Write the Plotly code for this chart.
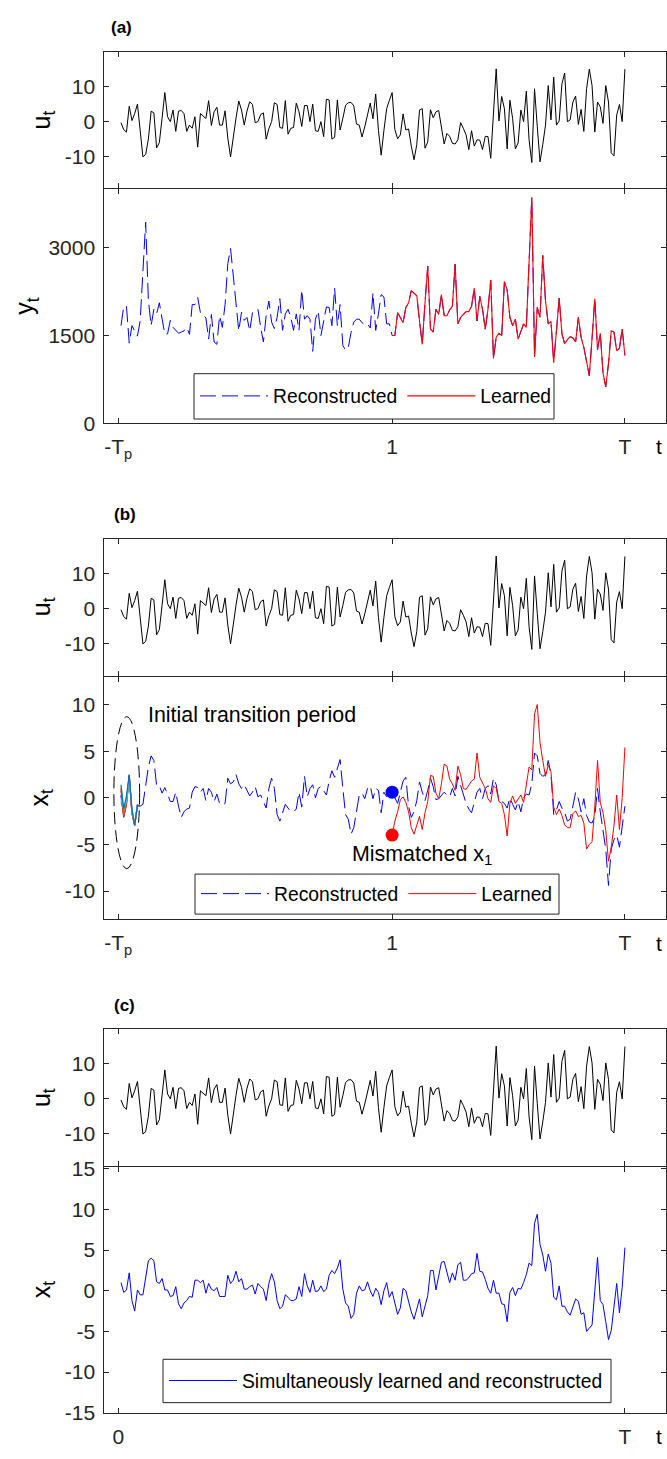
import plotly.graph_objects as go

# ---------------- data ----------------
# time index k (k=0 is the "-T_p" / "0" tick, k=100 is "1", k=185 is "T")
u_vals = [-0.3, -2.3, -3, 4.4, 0.3, 2.3, 5, -2.5, -10.1, -9.4,
          -5, 3, 2.5, -7.5, -6, 1, 8.3, 1.4, 0, 3.3,
          -2.8, 3, 3.2, 2.3, -2.8, -1, -1.9, 1.4, -7.3, 2.3,
          1.7, 0.9, 6, -1.1, 2.8, 4.1, -1, -1, 3.1, -4.7,
          -10.1, -4, 1, 5.9, 3.3, -1, 3, 5.7, 4.9, -0.3,
          0, 2, 2.5, -5, -2, 0, 5.4, 4.9, -1.7, -1.9,
          6, -3.6, -1.9, -1.7, 5.3, 2.8, -1.4, 4.6, 4.6, 0,
          5, -2.6, -2.8, 0, -4.3, 6.4, 6.2, -5, -4.5, 6.2,
          -2.4, 0.9, 4.7, 5.4, 5.5, 4.5, -0.7, -1, -4.4, -1.5,
          1.9, 5.3, 0.8, 7.9, -2.5, -9.6, -2.5, 3.7, 6.1, 8.3,
          -2.3, -4.9, -3.8, 2.2, -2.4, -2.1, -7, -10.9, -6.6, 3.3,
          3.7, -7.6, -5.8, 3.4, 1.1, 2.8, 3.2, -1.9, -6.4, -3.4,
          -4.2, -6.2, -6.4, -5.2, -0.3, -1.9, -3.8, -8, -2.6, -7,
          -5.2, -5.3, -8, -4.2, -4.3, -10.5, 2, 15.1, 0.2, 7.2,
          3.7, -7.8, 6.1, 0.9, -7.8, -6.1, 3.3, 0, 8.7, -5.2,
          -11.7, 9.4, -1.4, -11.5, -6.6, -1, 10.3, 0.5, 12.7, -1,
          0.2, 10.8, 13.9, 0, 0.5, 5.6, 7.3, -0.8, 3.5, -2.8,
          9.4, 15, 10.3, -3, 5.6, 4.2, -0.5, 10.3, 5.6, -8.9,
          -9.8, 1.9, 4.9, 0, 15]
k_all = list(range(1, 186))

# y_t reconstructed before t=1 (k=1..99)
y_recon_pre = [1670, 2000, 2000, 1370, 1670, 1580, 1490, 1750, 2500, 3440,
               2100, 1670, 1950, 1870, 2060, 1780, 1520, 1530, 1760, 1640,
               1590, 1540, 1560, 1580, 1640, 1520, 2030, 2030, 2150, 1890,
               1860, 1800, 1440, 1860, 1390, 1350, 1840, 1640, 2030, 2730,
               2990, 2540, 2090, 1580, 1900, 1760, 1810, 1580, 1890, 1920,
               1950, 1640, 1390, 1840, 2090, 1730, 1620, 1810, 2130, 1590,
               1870, 1950, 1810, 1590, 1870, 1590, 2280, 1780, 1840, 1780,
               1230, 1780, 1920, 1500, 1780, 1990, 1980, 1670, 2310, 1670,
               2030, 1330, 1250, 1300, 1550, 1730, 1780, 1780, 1720, 1690,
               1700, 1630, 2230, 1590, 1870, 2200, 2160, 1700, 1700]
# y_t learned (k=100..185)
y_learned = [1500, 1500, 1890, 1810, 1720, 1980, 2060, 2270, 2230, 2180,
             1750, 1350, 2060, 2690, 1610, 1560, 1950, 1860, 2200, 1840,
             1840, 1940, 2000, 2720, 1700, 1810, 1860, 1910, 1910, 2000,
             2310, 1750, 2170, 1950, 1610, 1950, 2450, 1110, 1470, 1540,
             1500, 2420, 2280, 1810, 1670, 1780, 1440, 1580, 1700, 1640,
             2700, 3870, 1140, 1980, 1810, 2870, 2090, 1700, 1740, 1040,
             1580, 2140, 1530, 1360, 1430, 1480, 1460, 1390, 1810, 1470,
             1300, 1080, 810, 1450, 2130, 1260, 1540, 860, 620, 1020,
             1580, 1560, 1240, 1280, 1610, 1160]
k_learned = list(range(100, 186))
y_recon = y_recon_pre + y_learned

# x_t reconstructed (k=1..185), panel (b)
x_recon = [0.3, -1.8, -0.5, 2.4, -1.5, -2.9, -0.8, -0.9, -0.7, 1.5,
           3.3, 4.5, 4.0, 1.3, 1.3, 0.5, 1.1, 0.4, -0.4, -0.4,
           0.6, -0.9, -2.1, -1.5, -1.2, -1.1, 0.6, 1.2, 1.1, 0.6,
           1.0, -0.3, 1.0, 0.6, -0.4, 0.4, -0.6, -0.8, -0.6, 2.1,
           1.5, 1.7, 2.5, 1.5, 1.0, 1.4, 0.8, 0.2, 0.6, 1.2,
           0.1, 0.3, -0.4, -1.1, 1.0, 2.1, 1.0, -1.8, -2.5, -1.5,
           -0.7, -1.1, -1.5, -1.5, -1.2, 0.6, -1.0, 2.3, 0.1, 1.0,
           1.4, 0.0, 1.0, 1.2, 0.8, 0.3, 1.8, 2.9, 2.2, 3.2,
           4.1, 1.0, -1.8, -2.3, -3.9, -3.2, -1.5, 0.3, 0.5, -0.1,
           1.0, 1.3, -0.1, 1.0, 0.8, -1.6, 0.6, 0.1, 0.8, 0.6,
           0.0, -0.6, 0.6, 1.8, 2.2, -0.9, -2.1, -1.5, -0.3, 1.7,
           0.6, -0.3, 0.8, 2.1, 1.2, -0.2, -0.1, 0.3, 0.6, 0.3,
           0.1, 1.0, 0.2, 2.3, 1.3, 0.5, -0.6, -1.2, -1.6, -0.5,
           0.6, 1.0, -0.1, 1.0, 1.3, 0.4, 2.1, 1.4, -0.3, -0.4,
           -0.6, -1.1, 0.0, -0.7, -1.3, -0.4, -1.5, 0.0, 0.4, 0.3,
           1.5, 4.8, 4.5, 2.6, 2.3, 2.5, 4.0, 2.5, -1.8, -1.3,
           -0.4, -1.1, -1.6, -2.5, -2.3, -0.9, 0.6, -0.1, -1.5, -0.1,
           -1.9, -2.6, -2.7, -2.0, 1.0, -1.5, -3.5, -5.5, -9.4, -5.5,
           -4.5, -4.0, -5.3, -2.8, -0.9]
# x_t learned (k=100..185), panel (b)
x_learned = [-4.0, -2.5, -1.5, -0.2, 0.1, -0.5, -1.5, -3.2, -3.9, -3.0,
             -2.0, -3.4, -1.6, -0.4, 2.4, 2.3, 0.5, -0.1, 1.5, 3.6,
             3.4, 2.0, 1.5, 0.8, 3.4, 2.5, 1.0, 0.9, 1.4, 1.8,
             2.0, 4.8, 2.2, 1.6, 1.0, -0.1, -0.5, 1.3, 1.0, -0.4,
             -0.6, -1.8, -4.1, -0.6, 0.2, -0.6, -0.1, 0.3, -0.5, 1.2,
             3.3, 3.0, 9.0, 10.0, 5.9, 4.0, 2.3, 3.5, 2.8, -1.0,
             -1.8, -1.2, -1.9, -2.9, -3.2, -3.2, -1.7, -1.4, -2.0, -1.9,
             -2.7, -5.5, -5.0, -4.7, -1.0, 4.0, -0.5, -1.6, -3.5, -6.8,
             -5.3, -3.0, 0.3, -3.4, 0.0, 5.4]

# initial transition period: several reconstructions from different initial states (k=1..8)
k_trans = list(range(1, 9))
trans_runs = [
    ("#A2142F", [1.0, -2.1, -0.5, 2.4, -1.5, -3.0, -0.8, -0.9]),
    ("#77AC30", [-0.4, -1.5, 0.0, 1.9, -1.2, -2.8, -0.8, -0.9]),
    ("#7E2F8E", [0.2, -2.0, -0.8, 2.3, -1.7, -2.9, -0.8, -0.9]),
    ("#EDB120", [1.2, -1.6, -0.3, 2.0, -1.4, -2.8, -0.8, -0.9]),
    ("#D95319", [0.8, -1.9, -0.6, 2.2, -1.6, -3.0, -0.8, -0.9]),
    ("#4DBEEE", [-0.2, -1.0, -0.4, 2.1, -1.5, -2.9, -0.8, -0.9]),
    ("#0072BD", [1.4, -1.2, 0.2, 2.5, -1.3, -2.9, -0.8, -0.9]),
]

# x_t simultaneously learned and reconstructed, panel (c)
x_joint = [1.0, -0.2, 0.1, 2.2, -1.2, -2.5, 0.1, -0.5, -0.5, 1.4,
           3.7, 4.0, 3.7, 1.1, 0.9, 1.5, 0.1, 0.1, -0.7, -0.6,
           0.5, -1.6, -2.2, -1.5, -1.2, -0.7, -0.8, 1.3, 1.3, 1.0,
           1.3, -0.3, 0.9, 0.2, 0.0, 0.4, -0.7, -0.7, -0.7, 1.9,
           0.9, 1.3, 2.4, 1.1, 1.5, 0.2, 0.2, 0.5, 0.7, -0.4,
           0.9, 0.5, 0.2, -1.2, 0.9, 2.1, 1.1, -1.2, -2.2, -1.9,
           -0.5, -0.8, -1.2, -1.2, -1.0, 0.5, -0.7, 2.1, 0.6, -0.2,
           1.3, -0.1, 0.0, 0.6, -0.1, 0.2, 1.9, 2.5, 2.1, 2.8,
           3.8, 0.2, -1.5, -1.9, -3.4, -2.9, -0.3, 0.6, 0.0, 0.1,
           1.1, 0.0, -0.7, 0.3, -0.2, -1.7, 0.0, 1.0, -0.8, -0.1,
           -1.6, -2.9, -2.1, 0.3, 0.0, -1.4, -2.6, -3.5, -2.2, -1.0,
           -3.2, -1.8, -0.6, 2.5, 2.5, 0.1, 1.6, 3.5, 3.6, 2.3,
           1.0, 2.2, 1.3, 3.2, 3.5, 1.3, 1.3, 1.6, 2.1, 2.2,
           4.6, 2.4, 2.3, 1.4, 0.3, -0.3, 1.3, -0.3, -0.3, -1.6,
           -1.7, -3.8, -0.2, 0.4, -0.6, 0.3, 0.2, 1.0, 2.0, 3.4,
           3.1, 8.3, 9.4, 5.7, 4.4, 2.4, 4.5, 3.4, -0.8, -1.1,
           0.6, -1.9, -1.9, -2.6, -3.0, -2.0, -1.0, -1.3, -2.9, -2.7,
           -5.0, -4.6, -4.2, 0.0, 4.1, -1.2, -1.7, -3.8, -6.0, -4.9,
           -2.0, 0.9, -2.7, 0.4, 5.3]

# ticks
xt_ab_vals = [0, 100, 185]
xt_ab_text = ["-T<sub>p</sub>", "1", "T"]
xt_c_vals = [0, 185]
xt_c_text = ["0", "T"]
yt_u = [-10, 0, 10]
yt_y = [0, 1500, 3000]
yt_xb = [-10, -5, 0, 5, 10]
yt_xc = [-15, -10, -5, 0, 5, 10, 15]

# ---------------- layout helpers ----------------
W, H = 667, 1459
FONT = "Liberation Sans, Arial, Helvetica, sans-serif"
AX = "#262626"
BLUE = "#0000FF"
RED = "#FF0000"
TICK_SIZE = 21
NOTE_SIZE = 21.4
LEG_SIZE = 19.3
LABEL_SIZE = 25


def py(p):
    return 1 - p / H


XDOM = [104.3 / W, 666 / W]
panels = {
    1: (42.3, 181.0),
    2: (182.0, 419.3),
    3: (536.7, 675.3),
    4: (676.3, 922.3),
    5: (1034.0, 1173.0),
    6: (1174.0, 1423.3),
}

fig = go.Figure()


def ax_name(i, kind):
    return kind + ("" if i == 1 else str(i))


def line(x, y, i, color, width=1.0, dash="solid", name=None, legend=None):
    fig.add_trace(go.Scatter(
        x=x, y=y, mode="lines", name=name,
        line=dict(color=color, width=width, dash=dash),
        xaxis=ax_name(i, "x"), yaxis=ax_name(i, "y"),
        showlegend=name is not None,
        legend=legend if legend else "legend",
        hoverinfo="skip",
    ))


DASH = "16px,6px"

# (a)
line(k_all, u_vals, 1, "black")
line(k_all, y_recon, 2, BLUE, dash=DASH, name="Reconstructed", legend="legend")
line(k_learned, y_learned, 2, RED, width=1.1, name="Learned", legend="legend")
# (b)
line(k_all, u_vals, 3, "black")
line(k_all, x_recon, 4, BLUE, dash=DASH, name="Reconstructed", legend="legend2")
line(k_learned, x_learned, 4, RED, name="Learned", legend="legend2")
for col, vals in trans_runs:
    line(k_trans, vals, 4, col, width=1.2)
fig.add_trace(go.Scatter(x=[k_learned[0]], y=[x_recon[99]], mode="markers",
                         marker=dict(color=BLUE, size=13), xaxis="x4", yaxis="y4",
                         showlegend=False, hoverinfo="skip"))
fig.add_trace(go.Scatter(x=[k_learned[0]], y=[x_learned[0]], mode="markers",
                         marker=dict(color=RED, size=13), xaxis="x4", yaxis="y4",
                         showlegend=False, hoverinfo="skip"))
# (c)
line(k_all, u_vals, 5, "black")
line(k_all, x_joint, 6, BLUE, name="Simultaneously learned and reconstructed", legend="legend3")

yranges = {1: [-19.1, 20], 2: [0, 4000], 3: [-19.2, 20], 4: [-13, 13], 5: [-19.3, 20], 6: [-15, 15.2]}
yticks = {1: yt_u, 2: yt_y, 3: yt_u, 4: yt_xb, 5: yt_u, 6: yt_xc}

lay = dict(
    width=W, height=H, margin=dict(l=0, r=0, t=0, b=0),
    paper_bgcolor="white", plot_bgcolor="white",
    font=dict(family=FONT, size=18, color=AX),
)
for i in range(1, 7):
    y0, y1 = panels[i]
    bottom = i in (2, 4, 6)
    tv = xt_c_vals if i in (5, 6) else xt_ab_vals
    tt = xt_c_text if i in (5, 6) else xt_ab_text
    lay["xaxis" + ("" if i == 1 else str(i))] = dict(
        domain=XDOM, range=[-5.1, 200], anchor=ax_name(i, "y"),
        showline=True, linecolor=AX, linewidth=1, mirror="allticks",
        ticks="inside", ticklen=5, tickcolor=AX, tickwidth=1,
        tickvals=tv, ticktext=tt, showticklabels=bottom,
        ticklabelstandoff=5,
        showgrid=False, zeroline=False, fixedrange=True,
        tickfont=dict(size=TICK_SIZE, color=AX, family=FONT),
    )
    lay["yaxis" + ("" if i == 1 else str(i))] = dict(
        domain=[py(y1), py(y0)], range=yranges[i], anchor=ax_name(i, "x"),
        showline=True, linecolor=AX, linewidth=1, mirror="allticks",
        ticks="inside", ticklen=5, tickcolor=AX, tickwidth=1,
        tickvals=yticks[i], ticktext=[str(v) for v in yticks[i]],
        ticklabelstandoff=4,
        showgrid=False, zeroline=False, fixedrange=True,
        tickfont=dict(size=TICK_SIZE, color=AX, family=FONT),
    )

legend_common = dict(
    orientation="h", xanchor="left", yanchor="middle",
    bgcolor="rgba(0,0,0,0)", borderwidth=0,
    font=dict(size=LEG_SIZE, color="black", family=FONT), itemwidth=68,
    tracegroupgap=0, itemclick=False, itemdoubleclick=False,
)
# legend boxes (pixel boxes: left, top, right, bottom)
leg_boxes = {"legend": (194, 369, 554, 415), "legend2": (195, 876.7, 559, 917.3),
             "legend3": (163, 1369, 611, 1413)}
for key, (l, t, r, b) in leg_boxes.items():
    lay[key] = dict(legend_common, x=(l + 1) / W, y=py((t + b) / 2))

fig.update_layout(**lay)

for key, (l, t, r, b) in leg_boxes.items():
    fig.add_shape(type="rect", xref="paper", yref="paper", x0=l / W, x1=r / W,
                  y0=py(b), y1=py(t), line=dict(color=AX, width=1),
                  fillcolor="white", layer="above")

# ellipse marking initial transition period
fig.add_shape(type="circle", xref="x4", yref="y4", x0=-1.6, x1=7.8, y0=-7.6, y1=8.7,
              line=dict(color="black", width=1, dash="12px,6px"))


def note(text, x, y, size=NOTE_SIZE, bold=False, angle=0, xanchor="center"):
    fig.add_annotation(text=("<b>%s</b>" % text) if bold else text,
                       x=x / W, y=py(y), xref="paper", yref="paper",
                       showarrow=False, textangle=angle, xanchor=xanchor, yanchor="middle",
                       font=dict(size=size, color="black", family=FONT))


note("(a)", 121, 18, size=17, bold=True)
note("(b)", 125, 512, size=17, bold=True)
note("(c)", 125, 1010, size=17, bold=True)
note("u<sub>t</sub>", 43, 112, size=LABEL_SIZE, angle=-90)
note("y<sub>t</sub>", 26, 300, size=LABEL_SIZE, angle=-90)
note("u<sub>t</sub>", 43, 606, size=LABEL_SIZE, angle=-90)
note("x<sub>t</sub>", 41, 799, size=LABEL_SIZE, angle=-90)
note("u<sub>t</sub>", 43, 1104, size=LABEL_SIZE, angle=-90)
note("x<sub>t</sub>", 43, 1298, size=LABEL_SIZE, angle=-90)
note("t", 659, 443, size=TICK_SIZE)
note("t", 659, 947, size=TICK_SIZE)
note("t", 659, 1447, size=TICK_SIZE)
note("Initial transition period", 146, 715, xanchor="left")
note("Mismatched x<sub>1</sub>", 350, 857, xanchor="left")

fig.write_html("out.html")
